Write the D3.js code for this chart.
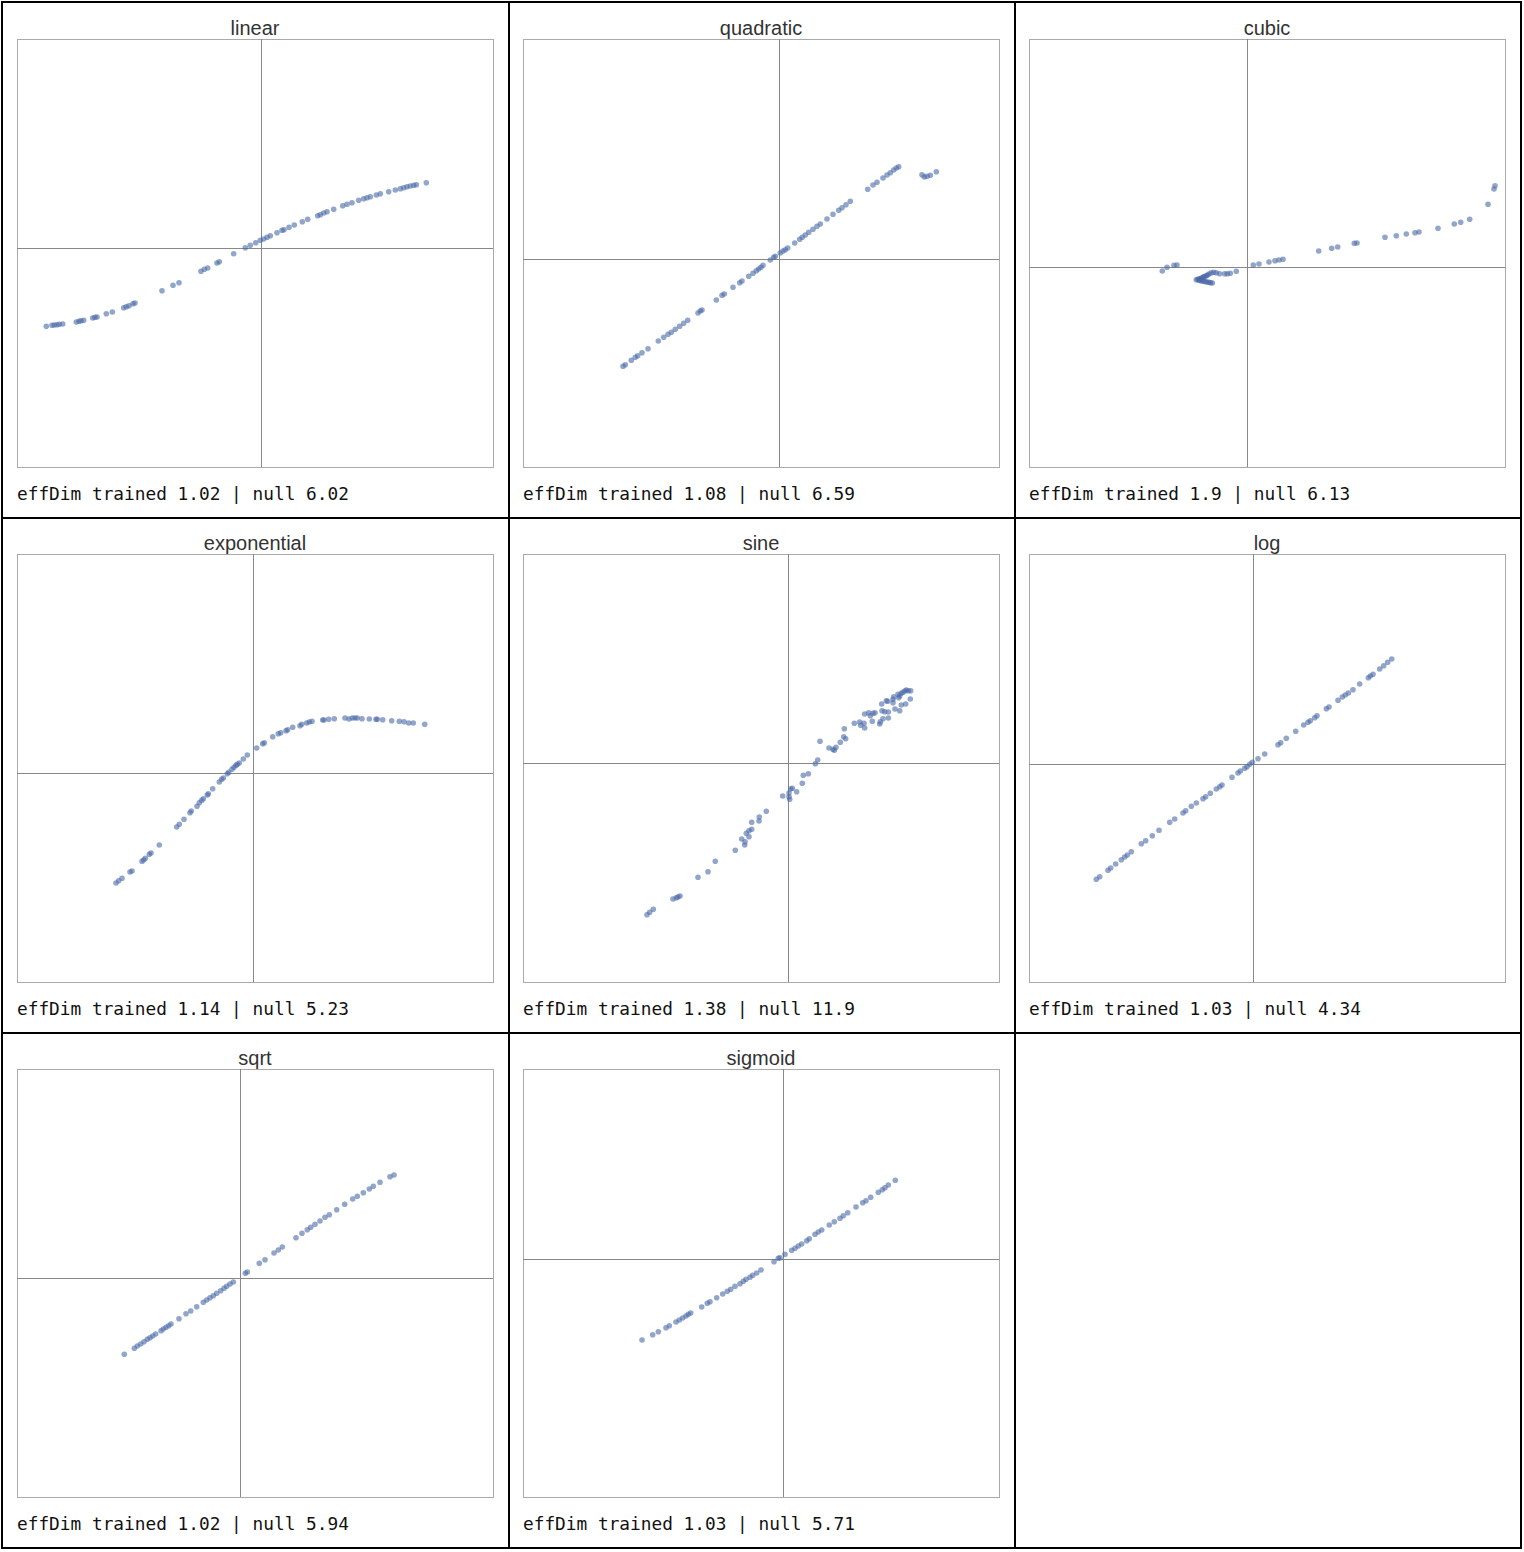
<!DOCTYPE html>
<html>
<head>
<meta charset="utf-8">
<script src="https://cdn.jsdelivr.net/npm/d3@7"></script>
<style>
  body { margin: 0; background: #fff; }
</style>
</head>
<body>
<div id="grid"></div>
<script>
const names = ['linear', 'quadratic', 'cubic', 'exponential', 'sine', 'log', 'sqrt', 'sigmoid'];
const trainedDim = [1.02, 1.08, 1.9, 1.14, 1.38, 1.03, 1.02, 1.03];
const nullDim = [6.02, 6.59, 6.13, 5.23, 11.9, 4.34, 5.94, 5.71];

const xDomains = [[-2.44, 2.32], [-2.56, 2.20], [-2.18, 2.58], [-2.36, 2.40], [-2.65, 2.11], [-2.24, 2.52], [-2.23, 2.53], [-2.60, 2.16]];
const yDomains = [[-2.19, 2.09], [-2.08, 2.20], [-2.00, 2.28], [-2.09, 2.19], [-2.19, 2.09], [-2.18, 2.10], [-2.19, 2.09], [-2.38, 1.90]];

const linearPts = [[-2.147,-0.783],[-2.09,-0.773],[-2.067,-0.77],[-2.04,-0.767],[-2.017,-0.763],[-1.983,-0.76],[-1.847,-0.74],[-1.82,-0.733],[-1.8,-0.727],[-1.773,-0.723],[-1.683,-0.7],[-1.66,-0.693],[-1.64,-0.69],[-1.547,-0.657],[-1.487,-0.64],[-1.373,-0.597],[-1.347,-0.587],[-1.32,-0.577],[-1.28,-0.557],[-1.26,-0.55],[-0.99,-0.427],[-0.88,-0.373],[-0.82,-0.347],[-0.6,-0.233],[-0.567,-0.213],[-0.533,-0.2],[-0.44,-0.15],[-0.417,-0.137],[-0.273,-0.057],[-0.157,0.003],[-0.107,0.027],[-0.053,0.053],[-0.007,0.077],[0.027,0.09],[0.06,0.107],[0.093,0.123],[0.16,0.153],[0.21,0.177],[0.23,0.183],[0.28,0.207],[0.333,0.23],[0.413,0.263],[0.467,0.287],[0.567,0.323],[0.593,0.333],[0.627,0.35],[0.66,0.363],[0.727,0.387],[0.817,0.423],[0.86,0.437],[0.91,0.453],[0.977,0.477],[1.027,0.493],[1.06,0.503],[1.093,0.513],[1.153,0.53],[1.193,0.543],[1.277,0.563],[1.343,0.58],[1.393,0.593],[1.427,0.603],[1.46,0.613],[1.493,0.62],[1.527,0.627],[1.553,0.633],[1.653,0.653]];

const quadraticPts = [[-1.56,-1.073],[-1.537,-1.057],[-1.477,-1.013],[-1.437,-0.983],[-1.413,-0.967],[-1.37,-0.937],[-1.31,-0.897],[-1.207,-0.82],[-1.153,-0.783],[-1.11,-0.753],[-1.077,-0.733],[-1.037,-0.703],[-0.993,-0.673],[-0.953,-0.643],[-0.913,-0.613],[-0.81,-0.54],[-0.787,-0.52],[-0.77,-0.51],[-0.627,-0.41],[-0.57,-0.363],[-0.547,-0.35],[-0.46,-0.283],[-0.393,-0.237],[-0.37,-0.22],[-0.303,-0.173],[-0.26,-0.143],[-0.227,-0.117],[-0.203,-0.1],[-0.18,-0.083],[-0.16,-0.063],[-0.087,-0.01],[-0.053,0.017],[-0.037,0.027],[0.013,0.06],[0.04,0.08],[0.063,0.093],[0.087,0.11],[0.157,0.16],[0.207,0.197],[0.233,0.217],[0.263,0.24],[0.297,0.267],[0.34,0.297],[0.38,0.327],[0.413,0.35],[0.48,0.4],[0.54,0.447],[0.597,0.487],[0.63,0.513],[0.67,0.543],[0.713,0.577],[0.887,0.697],[0.94,0.74],[0.98,0.767],[1.04,0.81],[1.08,0.84],[1.113,0.863],[1.147,0.89],[1.173,0.91],[1.197,0.923],[1.43,0.843],[1.453,0.82],[1.48,0.827],[1.513,0.837],[1.573,0.873]];

const cubicPts = [[-0.847,-0.04],[-0.8,-0.003],[-0.73,0.017],[-0.7,0.02],[-0.507,-0.127],[-0.48,-0.12],[-0.457,-0.11],[-0.433,-0.1],[-0.407,-0.087],[-0.38,-0.07],[-0.357,-0.057],[-0.333,-0.053],[-0.307,-0.057],[-0.48,-0.133],[-0.447,-0.14],[-0.413,-0.147],[-0.38,-0.153],[-0.347,-0.16],[-0.493,-0.123],[-0.467,-0.117],[-0.44,-0.103],[-0.42,-0.093],[-0.393,-0.08],[-0.463,-0.137],[-0.43,-0.143],[-0.397,-0.15],[-0.363,-0.157],[-0.273,-0.067],[-0.223,-0.067],[-0.197,-0.067],[-0.167,-0.063],[-0.107,-0.043],[0.063,0.02],[0.12,0.03],[0.22,0.05],[0.28,0.063],[0.32,0.07],[0.36,0.077],[0.717,0.16],[0.847,0.187],[0.907,0.2],[1.073,0.237],[1.1,0.24],[1.38,0.297],[1.493,0.313],[1.593,0.33],[1.68,0.343],[1.72,0.35],[1.91,0.387],[2.073,0.43],[2.137,0.447],[2.227,0.477],[2.41,0.627],[2.47,0.78],[2.48,0.813]];

const exponentialPts = [[-1.37,-1.1],[-1.343,-1.077],[-1.31,-1.053],[-1.23,-0.99],[-1.21,-0.98],[-1.11,-0.883],[-1.093,-0.87],[-1.077,-0.853],[-1.037,-0.813],[-1.02,-0.8],[-0.937,-0.72],[-0.763,-0.54],[-0.737,-0.513],[-0.69,-0.463],[-0.63,-0.397],[-0.617,-0.38],[-0.56,-0.333],[-0.537,-0.297],[-0.513,-0.273],[-0.497,-0.257],[-0.457,-0.22],[-0.447,-0.207],[-0.403,-0.157],[-0.337,-0.09],[-0.313,-0.063],[-0.297,-0.05],[-0.257,-0.007],[-0.243,0.007],[-0.21,0.037],[-0.19,0.057],[-0.17,0.077],[-0.157,0.087],[-0.137,0.1],[-0.097,0.14],[-0.057,0.18],[0.037,0.25],[0.097,0.293],[0.113,0.303],[0.197,0.363],[0.253,0.393],[0.277,0.403],[0.33,0.423],[0.347,0.433],[0.397,0.457],[0.47,0.473],[0.487,0.487],[0.537,0.5],[0.563,0.51],[0.59,0.517],[0.697,0.53],[0.71,0.53],[0.757,0.537],[0.813,0.543],[0.92,0.55],[0.96,0.54],[0.993,0.55],[1.02,0.55],[1.043,0.55],[1.09,0.543],[1.163,0.54],[1.23,0.537],[1.243,0.537],[1.297,0.533],[1.387,0.523],[1.463,0.517],[1.51,0.513],[1.557,0.5],[1.603,0.5],[1.717,0.487]];

const sinePts = [[-1.41,-1.517],[-1.383,-1.493],[-1.347,-1.463],[-1.15,-1.36],[-1.117,-1.347],[-1.1,-1.34],[-1.08,-1.33],[-0.9,-1.143],[-0.8,-1.087],[-0.727,-0.983],[-0.527,-0.873],[-0.433,-0.82],[-0.43,-0.787],[-0.39,-0.737],[-0.417,-0.703],[-0.39,-0.677],[-0.363,-0.663],[-0.463,-0.76],[-0.363,-0.593],[-0.29,-0.58],[-0.287,-0.54],[-0.217,-0.483],[-0.053,-0.33],[0.01,-0.337],[0.017,-0.363],[0.027,-0.26],[0.043,-0.253],[0.087,-0.287],[0.01,-0.3],[0.143,-0.203],[0.153,-0.123],[0.203,-0.107],[0.273,-0.007],[0.297,0.03],[0.32,0.217],[0.41,0.15],[0.45,0.137],[0.463,0.127],[0.48,0.157],[0.523,0.207],[0.557,0.263],[0.577,0.243],[0.563,0.343],[0.663,0.397],[0.717,0.41],[0.727,0.377],[0.767,0.35],[0.76,0.397],[0.767,0.49],[0.807,0.503],[0.823,0.473],[0.843,0.417],[0.85,0.497],[0.87,0.503],[0.917,0.39],[0.923,0.413],[0.95,0.443],[0.94,0.523],[0.967,0.513],[1.003,0.51],[1.003,0.45],[0.937,0.59],[0.983,0.623],[0.997,0.617],[1.05,0.603],[1.057,0.663],[1.07,0.54],[1.117,0.523],[1.133,0.58],[1.177,0.59],[1.223,0.64],[1.117,0.67],[1.133,0.697],[1.15,0.707],[1.17,0.72],[1.183,0.73],[1.203,0.723],[1.227,0.723],[1.05,0.637],[1.107,0.653],[1.1,0.687]];

const logPts = [[-1.567,-1.153],[-1.533,-1.127],[-1.45,-1.063],[-1.423,-1.04],[-1.373,-1.0],[-1.317,-0.957],[-1.283,-0.93],[-1.257,-0.91],[-1.217,-0.877],[-1.117,-0.797],[-1.073,-0.767],[-1.007,-0.717],[-0.94,-0.663],[-0.833,-0.583],[-0.783,-0.55],[-0.7,-0.49],[-0.673,-0.467],[-0.617,-0.423],[-0.567,-0.39],[-0.5,-0.347],[-0.473,-0.327],[-0.427,-0.293],[-0.367,-0.25],[-0.333,-0.227],[-0.31,-0.21],[-0.21,-0.133],[-0.15,-0.09],[-0.127,-0.07],[-0.083,-0.043],[-0.06,-0.027],[-0.033,-0.003],[-0.007,0.017],[0.05,0.053],[0.117,0.1],[0.25,0.193],[0.277,0.213],[0.333,0.257],[0.427,0.327],[0.507,0.39],[0.55,0.417],[0.573,0.433],[0.617,0.463],[0.64,0.483],[0.733,0.553],[0.76,0.57],[0.85,0.637],[0.893,0.67],[0.923,0.69],[0.953,0.71],[1.0,0.743],[1.067,0.8],[1.153,0.863],[1.173,0.88],[1.2,0.897],[1.267,0.95],[1.307,0.983],[1.347,1.017],[1.387,1.05]];

const sqrtPts = [[-1.157,-0.763],[-1.057,-0.703],[-1.027,-0.68],[-0.993,-0.66],[-0.96,-0.637],[-0.927,-0.613],[-0.9,-0.597],[-0.873,-0.58],[-0.843,-0.56],[-0.79,-0.527],[-0.767,-0.51],[-0.74,-0.493],[-0.713,-0.477],[-0.69,-0.46],[-0.61,-0.407],[-0.54,-0.357],[-0.493,-0.33],[-0.433,-0.287],[-0.367,-0.243],[-0.333,-0.22],[-0.3,-0.197],[-0.267,-0.177],[-0.233,-0.153],[-0.193,-0.127],[-0.16,-0.103],[-0.133,-0.083],[-0.1,-0.06],[-0.067,-0.04],[0.053,0.047],[0.073,0.06],[0.193,0.147],[0.25,0.183],[0.34,0.25],[0.383,0.28],[0.423,0.31],[0.56,0.403],[0.62,0.447],[0.673,0.483],[0.707,0.507],[0.75,0.537],[0.8,0.57],[0.85,0.607],[0.893,0.633],[0.967,0.683],[1.047,0.737],[1.127,0.79],[1.173,0.817],[1.233,0.853],[1.293,0.89],[1.333,0.917],[1.4,0.957],[1.5,1.013],[1.54,1.03]];

const sigmoidPts = [[-1.41,-0.81],[-1.303,-0.757],[-1.247,-0.727],[-1.17,-0.687],[-1.137,-0.667],[-1.07,-0.63],[-1.037,-0.61],[-1.003,-0.59],[-0.97,-0.57],[-0.947,-0.553],[-0.923,-0.54],[-0.813,-0.48],[-0.757,-0.443],[-0.73,-0.427],[-0.663,-0.387],[-0.603,-0.35],[-0.557,-0.323],[-0.523,-0.303],[-0.48,-0.273],[-0.43,-0.247],[-0.397,-0.223],[-0.37,-0.203],[-0.33,-0.183],[-0.303,-0.163],[-0.263,-0.14],[-0.22,-0.11],[-0.09,-0.027],[-0.047,0.007],[-0.03,0.013],[0.02,0.047],[0.087,0.087],[0.12,0.107],[0.153,0.13],[0.187,0.15],[0.237,0.183],[0.263,0.203],[0.32,0.247],[0.353,0.27],[0.387,0.29],[0.463,0.34],[0.513,0.373],[0.57,0.407],[0.603,0.433],[0.647,0.463],[0.73,0.52],[0.797,0.563],[0.83,0.583],[0.877,0.617],[0.953,0.667],[0.993,0.693],[1.02,0.713],[1.053,0.74],[1.123,0.787]];

const allPts = [linearPts, quadraticPts, cubicPts, exponentialPts, sinePts, logPts, sqrtPts, sigmoidPts];

const width = 1524, height = 1552;
const cellW = 506, cellH = 515;
const plotW = 476, plotH = 428;

const svg = d3.select("#grid")
  .append("svg")
  .attr("width", width)
  .attr("height", height);

// grid of cells
svg.append("rect")
  .attr("x", 2).attr("y", 2)
  .attr("width", 1519).attr("height", 1546)
  .attr("fill", "none")
  .attr("stroke", "#000")
  .attr("stroke-width", 2);

[1, 2].forEach(c => {
  svg.append("line")
    .attr("x1", 3 + c * cellW).attr("x2", 3 + c * cellW)
    .attr("y1", 2).attr("y2", 1548)
    .attr("stroke", "#000").attr("stroke-width", 2);
  svg.append("line")
    .attr("y1", 3 + c * cellH).attr("y2", 3 + c * cellH)
    .attr("x1", 2).attr("x2", 1521)
    .attr("stroke", "#000").attr("stroke-width", 2);
});

names.forEach((name, i) => {
  const col = i % 3, row = Math.floor(i / 3);
  const g = svg.append("g")
    .attr("transform", `translate(${3 + col * cellW + 14}, ${3 + row * cellH + 36})`);

  const x = d3.scaleLinear().domain(xDomains[i]).range([0, plotW]);
  const y = d3.scaleLinear().domain(yDomains[i]).range([plotH, 0]);

  g.append("text")
    .attr("x", plotW / 2)
    .attr("y", -4)
    .attr("text-anchor", "middle")
    .attr("font-family", "'Liberation Sans', Arial, sans-serif")
    .attr("font-size", 20)
    .attr("fill", "#333")
    .text(name);

  g.append("rect")
    .attr("x", 0.5).attr("y", 0.5)
    .attr("width", plotW).attr("height", plotH)
    .attr("fill", "#fff")
    .attr("stroke", "#aaa");

  // crosshair at the origin
  g.append("line")
    .attr("x1", Math.round(x(0)) + 0.5).attr("x2", Math.round(x(0)) + 0.5)
    .attr("y1", 0).attr("y2", plotH)
    .attr("stroke", "#888");
  g.append("line")
    .attr("y1", Math.round(y(0)) + 0.5).attr("y2", Math.round(y(0)) + 0.5)
    .attr("x1", 0).attr("x2", plotW)
    .attr("stroke", "#888");

  g.selectAll("circle")
    .data(allPts[i])
    .enter()
    .append("circle")
    .attr("cx", d => x(d[0]))
    .attr("cy", d => y(d[1]))
    .attr("r", 2.8)
    .attr("fill", "#4a69a8")
    .attr("fill-opacity", 0.6);

  g.append("text")
    .attr("x", 0)
    .attr("y", plotH + 33)
    .attr("font-family", "'DejaVu Sans Mono', monospace")
    .attr("font-size", 17.8)
    .attr("fill", "#111")
    .text(`effDim trained ${trainedDim[i]} | null ${nullDim[i]}`);
});
</script>
</body>
</html>
